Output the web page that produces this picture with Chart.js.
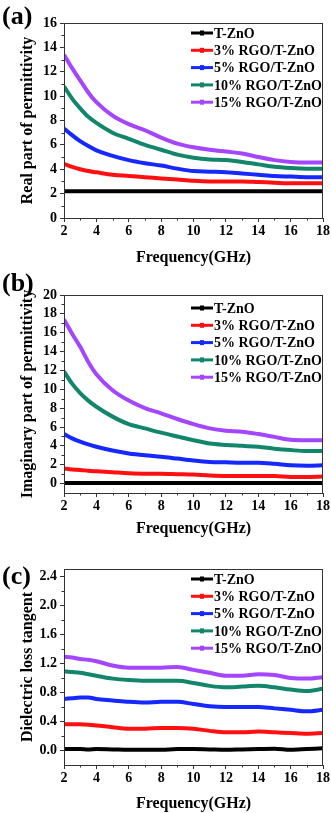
<!DOCTYPE html>
<html>
<head>
<meta charset="utf-8">
<script src="https://cdn.jsdelivr.net/npm/chart.js@4.4.0/dist/chart.umd.min.js"></script>
<style>
  html, body { margin: 0; padding: 0; background: #fff; }
  .panel { position: absolute; left: 0; width: 331px; }
  canvas { display: block; }
</style>
</head>
<body>
<div class="panel" style="top:0;height:271px"><canvas id="chartA" width="331" height="271"></canvas></div>
<div class="panel" style="top:271px;height:271px"><canvas id="chartB" width="331" height="271"></canvas></div>
<div class="panel" style="top:542px;height:271px"><canvas id="chartC" width="331" height="271"></canvas></div>
<script>
// Data
const freq = [2, 2.5, 3, 3.5, 4, 5, 6, 7, 8, 9, 10, 11, 12, 13, 14, 15, 16, 17, 18];
const seriesNames = ['T-ZnO', '3% RGO/T-ZnO', '5% RGO/T-ZnO', '10% RGO/T-ZnO', '15% RGO/T-ZnO'];
const xTicks = [2, 4, 6, 8, 10, 12, 14, 16, 18];

// (a) real part of permittivity
const realTZnO = [2.2, 2.2, 2.2, 2.2, 2.2, 2.2, 2.2, 2.2, 2.2, 2.2, 2.2, 2.2, 2.2, 2.2, 2.2, 2.2, 2.2, 2.2, 2.2];
const real3 = [4.45, 4.2, 4.0, 3.85, 3.75, 3.55, 3.45, 3.35, 3.25, 3.15, 3.05, 3.0, 3.0, 3.0, 2.95, 2.9, 2.85, 2.85, 2.85];
const real5 = [7.35, 6.8, 6.3, 5.9, 5.55, 5.1, 4.75, 4.5, 4.3, 4.05, 3.85, 3.8, 3.75, 3.65, 3.55, 3.45, 3.4, 3.35, 3.35];
const real10 = [10.8, 9.8, 9.0, 8.3, 7.8, 7.0, 6.5, 6.0, 5.6, 5.2, 4.95, 4.8, 4.75, 4.6, 4.4, 4.2, 4.1, 4.05, 4.05];
const real15 = [13.4, 12.3, 11.3, 10.3, 9.5, 8.4, 7.7, 7.2, 6.6, 6.1, 5.8, 5.6, 5.45, 5.3, 5.0, 4.75, 4.6, 4.55, 4.55];
const realTicks = [0, 2, 4, 6, 8, 10, 12, 14, 16];

// (b) imaginary part of permittivity
const imagTZnO = [0.05, 0.05, 0.05, 0.05, 0.05, 0.05, 0.05, 0.05, 0.05, 0.05, 0.05, 0.05, 0.05, 0.05, 0.05, 0.05, 0.05, 0.05, 0.05];
const imag3 = [1.6, 1.5, 1.45, 1.35, 1.3, 1.2, 1.1, 1.05, 1.05, 1.0, 0.95, 0.85, 0.8, 0.8, 0.8, 0.8, 0.7, 0.7, 0.75];
const imag5 = [5.25, 4.8, 4.45, 4.15, 3.9, 3.5, 3.2, 3.0, 2.85, 2.65, 2.45, 2.3, 2.25, 2.2, 2.2, 2.1, 1.95, 1.9, 1.95];
const imag10 = [11.9, 10.6, 9.6, 8.8, 8.15, 7.1, 6.3, 5.85, 5.4, 5.0, 4.6, 4.25, 4.1, 4.0, 3.9, 3.7, 3.55, 3.45, 3.45];
const imag15 = [17.4, 15.9, 14.5, 12.9, 11.6, 9.9, 8.8, 8.0, 7.45, 6.85, 6.3, 5.85, 5.6, 5.5, 5.25, 4.95, 4.65, 4.6, 4.6];
const imagTicks = [0, 2, 4, 6, 8, 10, 12, 14, 16, 18, 20];

// (c) dielectric loss tangent
const lossTZnO = [0.02, 0.02, 0.02, 0.015, 0.02, 0.015, 0.01, 0.01, 0.01, 0.02, 0.02, 0.015, 0.01, 0.015, 0.02, 0.025, 0.01, 0.02, 0.03];
const loss3 = [0.36, 0.36, 0.36, 0.355, 0.345, 0.32, 0.30, 0.30, 0.31, 0.31, 0.30, 0.27, 0.25, 0.25, 0.26, 0.25, 0.24, 0.23, 0.24];
const loss5 = [0.71, 0.72, 0.73, 0.73, 0.71, 0.69, 0.67, 0.66, 0.67, 0.67, 0.64, 0.61, 0.60, 0.60, 0.60, 0.58, 0.56, 0.54, 0.56];
const loss10 = [1.09, 1.08, 1.07, 1.05, 1.03, 0.99, 0.97, 0.96, 0.96, 0.96, 0.93, 0.89, 0.87, 0.88, 0.89, 0.87, 0.84, 0.82, 0.85];
const loss15 = [1.29, 1.28, 1.26, 1.25, 1.23, 1.17, 1.14, 1.14, 1.14, 1.15, 1.11, 1.07, 1.03, 1.03, 1.05, 1.04, 1.00, 0.99, 1.01];
const lossTicks = [0, 0.4, 0.8, 1.2, 1.6, 2.0, 2.4];

const colors = ['#000000', '#ff1010', '#1428ff', '#12866a', '#a445ff'];
const serif = "'Liberation Serif', 'Times New Roman', serif";

// Frame, minor ticks, panel letter and in-plot legend
const decorPlugin = {
    id: 'decor',
    afterDraw(chart, args, opts) {
        const ctx = chart.ctx;
        const a = chart.chartArea;
        const x = chart.scales.x, y = chart.scales.y;
        ctx.save();
        ctx.strokeStyle = '#333';
        ctx.lineWidth = 1;
        ctx.strokeRect(a.left + 0.5, a.top + 0.5, a.right - a.left - 1, a.bottom - a.top);

        // minor ticks
        ctx.beginPath();
        opts.yMinor.forEach(v => {
            const py = Math.round(y.getPixelForValue(v)) + 0.5;
            ctx.moveTo(a.left, py);
            ctx.lineTo(a.left - 2.5, py);
        });
        for (let v = 3; v < 18; v += 2) {
            const px = Math.round(x.getPixelForValue(v)) + 0.5;
            ctx.moveTo(px, a.bottom);
            ctx.lineTo(px, a.bottom + 2.5);
        }
        ctx.stroke();

        // panel letter
        ctx.fillStyle = '#000';
        ctx.font = 'bold 26px ' + serif;
        ctx.textBaseline = 'alphabetic';
        ctx.textAlign = 'left';
        ctx.fillText(opts.letter, 2, opts.letterY);

        // legend
        ctx.font = 'bold 14px ' + serif;
        ctx.textBaseline = 'middle';
        chart.data.datasets.forEach((ds, i) => {
            const ly = opts.legendY + i * 17.3;
            ctx.strokeStyle = ds.borderColor;
            ctx.lineWidth = 3;
            ctx.beginPath();
            ctx.moveTo(191, ly);
            ctx.lineTo(213, ly);
            ctx.stroke();
            ctx.fillStyle = ds.borderColor;
            ctx.fillRect(200, ly - 2.5, 4, 5);
            ctx.fillStyle = '#000';
            ctx.fillText(ds.label, 214, ly + 1);
        });
        ctx.restore();
    }
};

function makeChart(id, values, yTitle, yMin, yMax, yTicks, yMinor, fmt, area, opts) {
    const H = 271;
    const datasets = values.map((vals, i) => ({
        label: seriesNames[i],
        data: freq.map((f, k) => ({ x: f, y: vals[k] })),
        borderColor: colors[i],
        backgroundColor: colors[i],
        borderWidth: 4,
        pointRadius: 0,
        cubicInterpolationMode: 'monotone'
    }));
    return new Chart(document.getElementById(id), {
        type: 'line',
        data: { datasets },
        plugins: [decorPlugin],
        options: {
            responsive: false,
            animation: false,
            events: [],
            layout: { padding: { top: area.top, right: 8, left: 0, bottom: 0 } },
            plugins: {
                legend: { display: false },
                tooltip: { enabled: false },
                decor: Object.assign({ yMinor }, opts)
            },
            scales: {
                x: {
                    type: 'linear',
                    min: 2,
                    max: 18,
                    afterFit: s => { s.height = H - area.bottom; },
                    afterBuildTicks: s => { s.ticks = xTicks.map(v => ({ value: v })); },
                    grid: { display: true, drawOnChartArea: false, drawTicks: true, tickLength: 4, color: '#333' },
                    border: { display: true, color: '#333' },
                    ticks: { color: '#000', padding: 1, maxRotation: 0, font: { family: serif, size: 14, weight: 'bold' } },
                    title: {
                        display: true,
                        text: 'Frequency(GHz)',
                        color: '#000',
                        font: { family: serif, size: 16, weight: 'bold' },
                        padding: { top: 0, bottom: area.titlePad }
                    }
                },
                y: {
                    min: yMin,
                    max: yMax,
                    afterFit: s => { s.width = 64; },
                    afterBuildTicks: s => { s.ticks = yTicks.map(v => ({ value: v })); },
                    grid: { display: true, drawOnChartArea: false, drawTicks: true, tickLength: 4, color: '#333' },
                    border: { display: true, color: '#333' },
                    ticks: { color: '#000', padding: 3, font: { family: serif, size: 14, weight: 'bold' }, callback: fmt },
                    title: {
                        display: true,
                        text: yTitle,
                        color: '#000',
                        font: { family: serif, size: 16, weight: 'bold' },
                        padding: { top: 18, bottom: 0 }
                    }
                }
            }
        }
    });
}

const intFmt = v => String(v);
const oneDec = v => v.toFixed(1);

makeChart('chartA', [realTZnO, real3, real5, real10, real15], 'Real part of permittivity',
    0, 16, realTicks, [1, 3, 5, 7, 9, 11, 13, 15], intFmt,
    { top: 23, bottom: 218, titlePad: 4 },
    { letter: '(a)', letterY: 24, legendY: 33 });

makeChart('chartB', [imagTZnO, imag3, imag5, imag10, imag15], 'Imaginary part of permittivity',
    -1, 20, imagTicks, [1, 3, 5, 7, 9, 11, 13, 15, 17, 19], intFmt,
    { top: 24, bottom: 222, titlePad: 4 },
    { letter: '(b)', letterY: 20, legendY: 37 });

makeChart('chartC', [lossTZnO, loss3, loss5, loss10, loss15], 'Dielectric loss tangent',
    -0.2, 2.5, lossTicks, [0.2, 0.6, 1.0, 1.4, 1.8, 2.2], oneDec,
    { top: 27, bottom: 223, titlePad: 0 },
    { letter: '(c)', letterY: 42, legendY: 37 });
</script>
</body>
</html>
